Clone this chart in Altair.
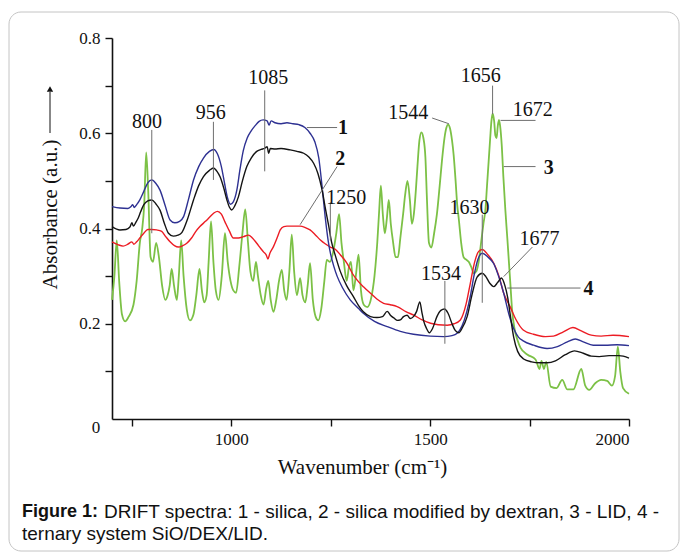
import altair as alt
import pandas as pd

# ---------------- data ----------------
silica = [(700,0.446),(720,0.443),(740,0.442),(748,0.446),(752,0.45),(756,0.444),(762,0.45),(770,0.46),(780,0.478),(790,0.496),(800,0.502),(810,0.495),(821,0.48),(833,0.45),(846,0.418),(858,0.412),(870,0.415),(880,0.425),(892,0.46),(905,0.502),(918,0.53),(930,0.548),(945,0.562),(956,0.566),(965,0.557),(975,0.53),(983,0.495),(990,0.466),(998,0.451),(1005,0.456),(1014,0.481),(1022,0.525),(1030,0.563),(1040,0.59),(1050,0.605),(1060,0.616),(1070,0.625),(1080,0.628),(1090,0.626),(1095,0.617),(1100,0.626),(1110,0.622),(1125,0.62),(1140,0.622),(1155,0.62),(1170,0.618),(1185,0.612),(1198,0.6),(1210,0.582),(1220,0.548),(1228,0.49),(1236,0.425),(1244,0.372),(1250,0.345),(1258,0.32),(1266,0.3),(1280,0.275),(1299,0.25),(1320,0.232),(1332,0.222),(1360,0.205),(1392,0.194),(1425,0.184),(1458,0.178),(1500,0.174),(1534,0.173),(1555,0.175),(1568,0.18),(1580,0.195),(1592,0.225),(1601,0.258),(1610,0.3),(1620,0.335),(1631,0.348),(1645,0.34),(1660,0.326),(1672,0.3),(1685,0.264),(1698,0.22),(1710,0.19),(1722,0.172),(1734,0.164),(1760,0.155),(1794,0.148),(1820,0.152),(1845,0.162),(1865,0.168),(1885,0.162),(1910,0.155),(1940,0.155),(1970,0.156),(2000,0.154)]

dextran = [(700,0.372),(715,0.366),(728,0.363),(740,0.367),(750,0.372),(755,0.367),(762,0.372),(770,0.38),(780,0.39),(790,0.398),(800,0.398),(812,0.397),(825,0.394),(835,0.383),(846,0.372),(857,0.364),(867,0.361),(878,0.364),(888,0.369),(900,0.38),(910,0.393),(921,0.404),(935,0.415),(947,0.425),(957,0.433),(965,0.436),(975,0.43),(984,0.414),(995,0.395),(1005,0.38),(1018,0.38),(1031,0.383),(1043,0.386),(1053,0.38),(1064,0.369),(1074,0.358),(1081,0.351),(1088,0.344),(1092,0.336),(1097,0.348),(1106,0.362),(1115,0.38),(1123,0.397),(1132,0.404),(1140,0.405),(1155,0.405),(1173,0.405),(1186,0.402),(1198,0.397),(1212,0.386),(1224,0.376),(1236,0.368),(1249,0.361),(1262,0.356),(1274,0.345),(1291,0.327),(1305,0.305),(1316,0.292),(1333,0.277),(1350,0.264),(1366,0.252),(1383,0.243),(1400,0.24),(1417,0.236),(1440,0.225),(1459,0.218),(1480,0.208),(1501,0.201),(1520,0.198),(1543,0.197),(1560,0.2),(1576,0.208),(1590,0.24),(1601,0.285),(1612,0.33),(1622,0.352),(1631,0.356),(1645,0.345),(1660,0.327),(1673,0.3),(1685,0.264),(1701,0.236),(1715,0.21),(1734,0.187),(1760,0.178),(1790,0.173),(1810,0.174),(1835,0.183),(1859,0.192),(1880,0.185),(1905,0.176),(1930,0.174),(1960,0.176),(2000,0.173)]

lid = [(700,0.25),(706,0.30),(712,0.375),(718,0.29),(725,0.22),(733,0.205),(742,0.215),(754,0.24),(762,0.29),(770,0.37),(776,0.40),(781,0.45),(786,0.56),(791,0.48),(797,0.34),(803,0.33),(811,0.37),(818,0.34),(826,0.28),(834,0.25),(840,0.26),(845,0.28),(850,0.315),(856,0.28),(863,0.25),(868,0.30),(874,0.375),(880,0.30),(888,0.23),(896,0.207),(905,0.22),(912,0.26),(920,0.315),(926,0.27),(932,0.245),(938,0.26),(943,0.33),(949,0.415),(955,0.33),(961,0.27),(968,0.25),(976,0.30),(984,0.39),(991,0.33),(998,0.29),(1005,0.27),(1012,0.265),(1020,0.32),(1028,0.39),(1035,0.44),(1042,0.37),(1048,0.31),(1055,0.29),(1062,0.33),(1067,0.30),(1074,0.26),(1081,0.24),(1088,0.275),(1093,0.29),(1099,0.25),(1106,0.225),(1113,0.25),(1120,0.29),(1127,0.313),(1133,0.27),(1139,0.25),(1146,0.31),(1152,0.387),(1158,0.31),(1165,0.26),(1173,0.296),(1179,0.26),(1186,0.245),(1192,0.28),(1198,0.327),(1205,0.25),(1212,0.215),(1219,0.207),(1226,0.23),(1234,0.29),(1240,0.334),(1248,0.33),(1256,0.35),(1264,0.39),(1271,0.43),(1277,0.37),(1283,0.33),(1290,0.29),(1296,0.32),(1301,0.33),(1307,0.27),(1313,0.30),(1320,0.345),(1326,0.27),(1333,0.24),(1342,0.235),(1352,0.255),(1360,0.30),(1367,0.37),(1372,0.44),(1376,0.49),(1381,0.43),(1386,0.39),(1391,0.42),(1396,0.46),(1401,0.41),(1407,0.37),(1413,0.34),(1419,0.34),(1425,0.38),(1432,0.43),(1437,0.47),(1443,0.50),(1449,0.46),(1454,0.41),(1459,0.43),(1464,0.48),(1468,0.53),(1473,0.585),(1478,0.602),(1483,0.59),(1488,0.55),(1492,0.46),(1497,0.37),(1503,0.36),(1510,0.39),(1517,0.43),(1524,0.49),(1530,0.545),(1536,0.59),(1541,0.612),(1545,0.618),(1550,0.61),(1555,0.585),(1559,0.555),(1564,0.50),(1568,0.45),(1572,0.42),(1578,0.37),(1584,0.34),(1590,0.335),(1597,0.33),(1603,0.32),(1610,0.306),(1616,0.31),(1622,0.33),(1628,0.37),(1634,0.41),(1639,0.44),(1643,0.49),(1647,0.54),(1651,0.59),(1654,0.625),(1657,0.641),(1661,0.625),(1664,0.595),(1667,0.59),(1670,0.615),(1673,0.628),(1676,0.615),(1680,0.575),(1684,0.51),(1689,0.44),(1694,0.38),(1698,0.33),(1702,0.28),(1706,0.229),(1712,0.19),(1720,0.165),(1727,0.15),(1745,0.135),(1765,0.125),(1775,0.105),(1780,0.122),(1786,0.105),(1792,0.12),(1803,0.068),(1818,0.065),(1832,0.082),(1845,0.062),(1860,0.062),(1880,0.105),(1890,0.07),(1900,0.061),(1915,0.075),(1930,0.082),(1945,0.08),(1957,0.07),(1965,0.09),(1972,0.152),(1978,0.10),(1985,0.065),(2000,0.053)]

ternary = [(700,0.404),(720,0.397),(735,0.398),(745,0.403),(750,0.412),(754,0.405),(760,0.413),(766,0.422),(772,0.435),(780,0.45),(790,0.458),(800,0.46),(810,0.452),(821,0.438),(832,0.41),(842,0.39),(854,0.384),(866,0.386),(876,0.392),(890,0.42),(905,0.46),(918,0.49),(930,0.509),(945,0.522),(955,0.527),(964,0.52),(972,0.508),(981,0.485),(989,0.46),(995,0.445),(1001,0.439),(1009,0.448),(1018,0.467),(1028,0.5),(1039,0.53),(1050,0.548),(1064,0.562),(1075,0.566),(1085,0.569),(1090,0.572),(1094,0.558),(1098,0.568),(1110,0.567),(1125,0.568),(1148,0.565),(1165,0.562),(1182,0.558),(1195,0.55),(1207,0.537),(1218,0.515),(1228,0.482),(1237,0.44),(1245,0.405),(1252,0.372),(1261,0.345),(1274,0.31),(1290,0.28),(1307,0.257),(1320,0.238),(1332,0.225),(1350,0.215),(1366,0.213),(1380,0.215),(1392,0.226),(1400,0.218),(1409,0.212),(1418,0.207),(1425,0.208),(1433,0.215),(1442,0.218),(1450,0.211),(1458,0.215),(1466,0.226),(1474,0.246),(1479,0.225),(1484,0.205),(1491,0.19),(1498,0.181),(1506,0.19),(1517,0.215),(1527,0.228),(1536,0.231),(1545,0.222),(1555,0.2),(1563,0.186),(1572,0.181),(1580,0.19),(1593,0.215),(1605,0.26),(1618,0.298),(1631,0.306),(1640,0.299),(1650,0.285),(1660,0.278),(1670,0.287),(1679,0.296),(1688,0.28),(1695,0.255),(1702,0.215),(1710,0.172),(1720,0.142),(1735,0.126),(1755,0.12),(1775,0.118),(1794,0.118),(1815,0.122),(1840,0.135),(1863,0.143),(1885,0.138),(1905,0.132),(1925,0.131),(1950,0.133),(1975,0.133),(2000,0.128)]

series_names = ["3", "2", "1", "4"]
series_colors = ["#7cc146", "#ec1c24", "#2e3192", "#141414"]
series_widths = [1.8, 1.4, 1.4, 1.4]

# peak labels
ann_text = ["800", "956", "1085", "1250", "1544", "1656", "1672", "1630", "1677", "1534"]
ann_x = [788, 948, 1093, 1289, 1445, 1627, 1758, 1599, 1775, 1527]
ann_y = [0.624, 0.643, 0.716, 0.464, 0.642, 0.72, 0.649, 0.444, 0.378, 0.304]

# curve numbers
num_text = ["1", "2", "3", "4"]
num_x = [1281, 1274, 1798, 1898]
num_y = [0.610, 0.546, 0.527, 0.273]

# leader lines (x, y, x2, y2)
lead_x = [800, 955, 1084, 1249, 1505, 1657, 1677, 1685, 1631, 1757, 1694, 1537, 1190, 1173]
lead_y = [0.607, 0.624, 0.69, 0.455, 0.632, 0.70, 0.627, 0.53, 0.429, 0.361, 0.275, 0.29, 0.612, 0.408]
lead_x2 = [800, 955, 1084, 1249, 1547, 1657, 1765, 1765, 1631, 1685, 1878, 1537, 1266, 1266]
lead_y2 = [0.39, 0.502, 0.52, 0.375, 0.62, 0.64, 0.627, 0.53, 0.244, 0.299, 0.275, 0.158, 0.612, 0.53]

x_ticks = [750, 1000, 1250, 1500, 1750, 2000]
y_ticks = [0.1, 0.2, 0.3, 0.4, 0.5, 0.6, 0.7, 0.8]

caption_bold = "Figure 1:"
caption_line1 = "DRIFT spectra: 1 - silica, 2 - silica modified by dextran, 3 - LID, 4 -"
caption_line2 = "ternary system SiO/DEX/LID."

# ---------------- build tables ----------------
rows = []
for name, pts in zip(series_names, [lid, dextran, silica, ternary]):
    for i, (x, y) in enumerate(pts):
        rows.append({"series": name, "wn": x, "abs": y, "order": i})
spectra = pd.DataFrame(rows)

ann = pd.DataFrame({"t": ann_text, "x": ann_x, "y": ann_y})
nums = pd.DataFrame({"t": num_text, "x": num_x, "y": num_y})
leads = pd.DataFrame({"x": lead_x, "y": lead_y, "x2": lead_x2, "y2": lead_y2})
zero = pd.DataFrame({"t": ["0"], "x": [700], "y": [0.0]})

W, H = 517, 381
SERIF = "Liberation Serif"
SANS = "Liberation Sans"

xscale = alt.Scale(domain=[700, 2000], nice=False, zero=False)
yscale = alt.Scale(domain=[0, 0.8], nice=False)

lines = []
for name, col, sw in zip(series_names, series_colors, series_widths):
    lines.append(
        alt.Chart(spectra[spectra.series == name]).mark_line(
            color=col, strokeWidth=sw, interpolate="monotone"
        ).encode(
            x=alt.X("wn:Q", scale=xscale,
                    axis=alt.Axis(values=x_ticks, title="Wavenumber (cm⁻¹)",
                                  labelExpr="datum.value % 500 == 0 ? datum.label : ''",
                                  format="d", grid=False, tickSize=7, tickColor="#111",
                                  domainColor="#111", domainWidth=1.6, tickWidth=1.4,
                                  labelFont=SERIF, labelFontSize=17, labelColor="#111",
                                  labelPadding=5, titleFont=SERIF, titleFontSize=21,
                                  titleFontWeight="normal", titleColor="#111",
                                  titleX=250, titleY=48, titleBaseline="middle")),
            y=alt.Y("abs:Q", scale=yscale,
                    axis=alt.Axis(values=y_ticks, title="Absorbance (a.u.)",
                                  labelExpr="(round(datum.value*10) % 2 == 0) ? format(datum.value, '.1f') : ''",
                                  grid=False, tickSize=7, tickColor="#111",
                                  domainColor="#111", domainWidth=1.6, tickWidth=1.4,
                                  labelFont=SERIF, labelFontSize=17, labelColor="#111",
                                  labelPadding=5, titleFont=SERIF, titleFontSize=21,
                                  titleFontWeight="normal", titleColor="#111",
                                  titleX=-62, titleY=176, titleAngle=270,
                                  titleAlign="center", titleBaseline="middle")),
            order="order:Q",
        )
    )

leader = alt.Chart(leads).mark_rule(color="#6e6e6e", strokeWidth=1).encode(
    x=alt.X("x:Q", scale=xscale), y=alt.Y("y:Q", scale=yscale),
    x2="x2:Q", y2="y2:Q")

ann_txt = alt.Chart(ann).mark_text(font=SERIF, fontSize=20, color="#111",
                                   baseline="middle", align="center").encode(
    x=alt.X("x:Q", scale=xscale), y=alt.Y("y:Q", scale=yscale), text="t:N")

num_txt = alt.Chart(nums).mark_text(font=SERIF, fontSize=20, fontWeight="bold",
                                    color="#111", baseline="middle", align="center").encode(
    x=alt.X("x:Q", scale=xscale), y=alt.Y("y:Q", scale=yscale), text="t:N")

zero_txt = alt.Chart(zero).mark_text(font=SERIF, fontSize=17, color="#111",
                                     baseline="middle", align="center", dx=-16, dy=9).encode(
    x=alt.X("x:Q", scale=xscale), y=alt.Y("y:Q", scale=yscale), text="t:N")

# decorations: y-title arrow, frame and caption
arrow_line = alt.Chart(zero).mark_rule(color="#111", strokeWidth=1).encode(
    x=alt.value(-62), y=alt.value(54), y2=alt.value(95))
arrow_head = alt.Chart(zero).mark_point(shape="triangle-up", filled=True, color="#111",
                                        size=40, opacity=1).encode(
    x=alt.value(-62), y=alt.value(51))

frame = alt.Chart(zero).mark_rect(fill=None, stroke="#c4c4c4", strokeWidth=1,
                                  cornerRadius=12).encode(
    x=alt.value(-103), x2=alt.value(567), y=alt.value(-26), y2=alt.value(513))

cap_b = alt.Chart(zero).mark_text(font=SANS, fontSize=18, fontWeight="bold",
                                  color="#111", align="left", baseline="middle").encode(
    x=alt.value(-90), y=alt.value(474), text=alt.value(caption_bold))
cap_1 = alt.Chart(zero).mark_text(font=SANS, fontSize=19,
                                  color="#111", align="left", baseline="middle").encode(
    x=alt.value(-8), y=alt.value(474), text=alt.value(caption_line1))
cap_2 = alt.Chart(zero).mark_text(font=SANS, fontSize=19,
                                  color="#111", align="left", baseline="middle").encode(
    x=alt.value(-90), y=alt.value(496), text=alt.value(caption_line2))

chart = alt.layer(
    frame, *lines, leader, ann_txt, num_txt, zero_txt, arrow_line, arrow_head,
    cap_b, cap_1, cap_2
).properties(
    width=W, height=H,
    autosize=alt.AutoSizeParams(type="none"),
    padding={"left": 112, "top": 38, "right": 54, "bottom": 136},
    background="white",
).configure_view(stroke=None)

chart.save("out.html", embed_options={"renderer": "svg", "actions": False})
